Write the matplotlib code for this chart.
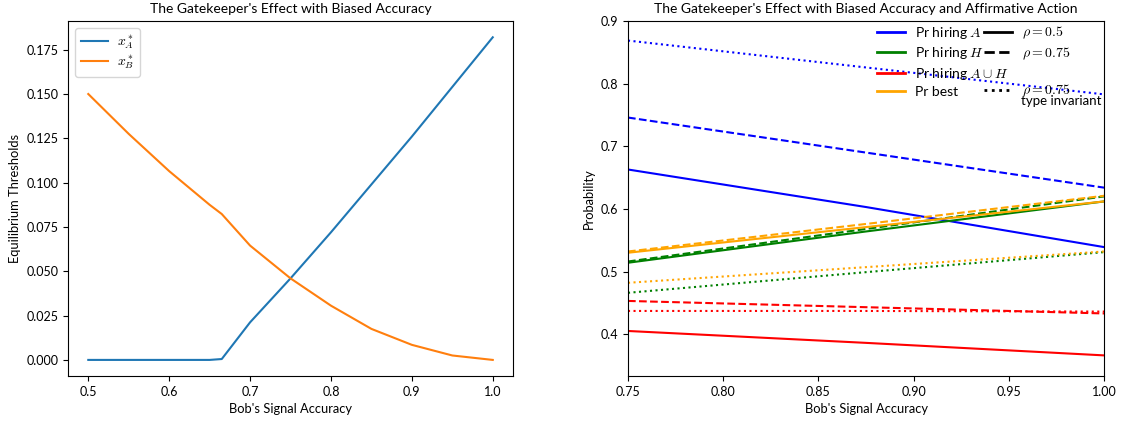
import matplotlib.pyplot as plt
from matplotlib import font_manager
from matplotlib.lines import Line2D

# narrow sans to stand in for the LaTeX sans font of the original
if 'Liberation Sans Narrow' in font_manager.get_font_names():
    plt.rcParams['font.family'] = ['Liberation Sans Narrow', 'DejaVu Sans']
else:
    plt.rcParams['font.family'] = ['Lato', 'DejaVu Sans']
plt.rcParams['mathtext.fontset'] = 'cm'
plt.rcParams['font.size'] = 9
plt.rcParams['axes.labelsize'] = 9.25

# left panel: equilibrium thresholds vs Bob's accuracy
acc_left = [0.5, 0.55, 0.6, 0.65, 0.665, 0.7, 0.75, 0.8, 0.85, 0.9, 0.95, 1.0]
x_a = [0.0, 0.0, 0.0, 0.0, 0.0005, 0.0212, 0.046, 0.072, 0.099, 0.126, 0.154, 0.182]
x_b = [0.150, 0.1275, 0.1065, 0.0875, 0.0823, 0.0645, 0.046, 0.0306, 0.0175, 0.0085, 0.0025, 0.0]

# right panel: probabilities, rho=0.5 (solid), rho=0.75 (dashed), type invariant (dotted)
acc_right = [0.75, 0.875, 1.0]
hire_a = {'solid': [0.663, 0.603, 0.539], 'dashed': [0.746, 0.690, 0.634], 'dotted': [0.869, 0.826, 0.783]}
hire_h = {'solid': [0.514, 0.564, 0.612], 'dashed': [0.516, 0.568, 0.620], 'dotted': [0.466, 0.499, 0.531]}
hire_ah = {'solid': [0.405, 0.386, 0.366], 'dashed': [0.453, 0.443, 0.433], 'dotted': [0.437, 0.437, 0.436]}
pr_best = {'solid': [0.530, 0.571, 0.612], 'dashed': [0.532, 0.576, 0.621], 'dotted': [0.482, 0.507, 0.532]}

fig = plt.figure(figsize=(11.23, 4.23), dpi=100)
ax1 = fig.add_axes([0.0606, 0.111, 0.3962, 0.839])
ax2 = fig.add_axes([0.5592, 0.111, 0.4240, 0.839])

ax1.plot(acc_left, x_a, color='C0', lw=1.5, label='$x_A^*$')
ax1.plot(acc_left, x_b, color='C1', lw=1.5, label='$x_B^*$')
ax1.set_title("The Gatekeeper's Effect with Biased Accuracy", fontsize=10)
ax1.set_xlabel("Bob's Signal Accuracy")
ax1.set_ylabel('Equilibrium Thresholds')
ax1.legend(loc='upper left', fontsize=10, labelspacing=0.15, handletextpad=0.6)

styles = {'solid': '-', 'dashed': '--', 'dotted': ':'}
series = [(hire_a, 'blue'), (hire_h, 'green'), (hire_ah, 'red'), (pr_best, 'orange')]
for data, col in series:
    for key, ls in styles.items():
        ax2.plot(acc_right, data[key], color=col, ls=ls, lw=1.5)

ax2.set_xlim(0.75, 1.0)
ax2.set_ylim(0.333, 0.9)
ax2.set_title("The Gatekeeper's Effect with Biased Accuracy and Affirmative Action", fontsize=10)
ax2.set_xlabel("Bob's Signal Accuracy")
ax2.set_ylabel('Probability')

colour_handles = [Line2D([], [], color=c, lw=2) for c in ['blue', 'green', 'red', 'orange']]
colour_labels = ['Pr hiring $A$', 'Pr hiring $H$', r'Pr hiring $A \cup H$', 'Pr best']
leg1 = ax2.legend(colour_handles, colour_labels, loc='upper left', bbox_to_anchor=(0.524, 0.99),
                  frameon=False, fontsize=10, borderpad=0, borderaxespad=0,
                  labelspacing=0.32, handletextpad=0.7)
ax2.add_artist(leg1)

style_handles = [Line2D([], [], color='black', ls='-', lw=2),
                 Line2D([], [], color='black', ls='--', lw=2),
                 Line2D([], [], color='none'),
                 Line2D([], [], color='black', ls=':', lw=2)]
style_labels = [r'$\rho = 0.5$', r'$\rho = 0.75$', ' ', r'$\rho = 0.75$']
ax2.legend(style_handles, style_labels, loc='upper left', bbox_to_anchor=(0.748, 0.99),
           frameon=False, fontsize=10, borderpad=0, borderaxespad=0,
           labelspacing=0.32, handletextpad=0.7)
ax2.text(0.825, 0.775, 'type invariant', transform=ax2.transAxes, ha='left', va='center', fontsize=9.5)

fig.savefig('out.png', dpi=100)
